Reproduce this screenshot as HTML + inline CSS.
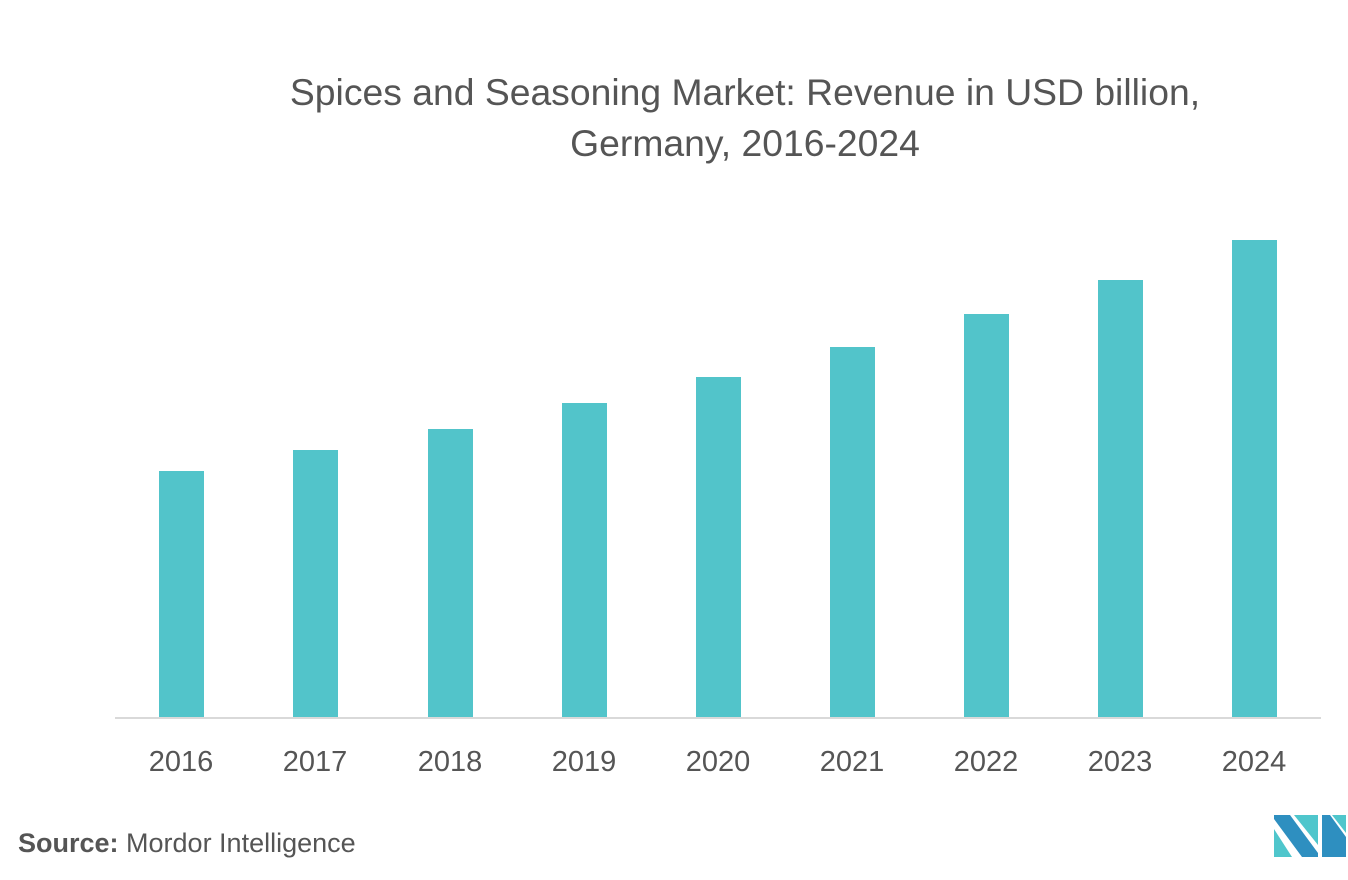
<!DOCTYPE html>
<html><head><style>
body{margin:0;width:1348px;height:880px;background:#fff;font-family:"Liberation Sans",sans-serif;position:relative;overflow:hidden}
.t{position:absolute;left:0;width:1490px;text-align:center;color:#555;font-size:37.3px;line-height:44px}
.b{position:absolute;width:45px;background:#52c4ca}
.l{position:absolute;top:746px;width:100px;text-align:center;font-size:29px;color:#555}
</style></head><body>
<div class="t" style="top:70px">Spices and Seasoning Market: Revenue in USD billion,</div>
<div class="t" style="top:121px">Germany, 2016-2024</div>
<div style="position:absolute;left:115px;top:717px;width:1206px;height:2px;background:#d9d9d9"></div>
<div class="b" style="left:159px;top:471px;height:246px"></div>
<div class="b" style="left:293px;top:450px;height:267px"></div>
<div class="b" style="left:428px;top:429px;height:288px"></div>
<div class="b" style="left:562px;top:403px;height:314px"></div>
<div class="b" style="left:696px;top:377px;height:340px"></div>
<div class="b" style="left:830px;top:347px;height:370px"></div>
<div class="b" style="left:964px;top:314px;height:403px"></div>
<div class="b" style="left:1098px;top:280px;height:437px"></div>
<div class="b" style="left:1232px;top:240px;height:477px"></div>
<div class="l" style="left:131px">2016</div>
<div class="l" style="left:265px">2017</div>
<div class="l" style="left:400px">2018</div>
<div class="l" style="left:534px">2019</div>
<div class="l" style="left:668px">2020</div>
<div class="l" style="left:802px">2021</div>
<div class="l" style="left:936px">2022</div>
<div class="l" style="left:1070px">2023</div>
<div class="l" style="left:1204px">2024</div>
<div style="position:absolute;left:18px;top:828px;font-size:27px;color:#555"><b>Source:</b> Mordor Intelligence</div>
<svg style="position:absolute;left:1274px;top:815px" width="72" height="42" viewBox="0 0 72 42">
<polygon points="0,0 16,0 44,38 44,42 28,42 0,4" fill="#2e8fc0"/>
<polygon points="0,14 18,42 0,42" fill="#4fc6cc"/>
<polygon points="20,0 44,0 44,30" fill="#4fc6cc"/>
<polygon points="48,0 56,0 72,22 72,42 48,42 48,10" fill="#2e8fc0"/>
<polygon points="58,0 72,0 72,18" fill="#4fc6cc"/>
</svg>
</body></html>
